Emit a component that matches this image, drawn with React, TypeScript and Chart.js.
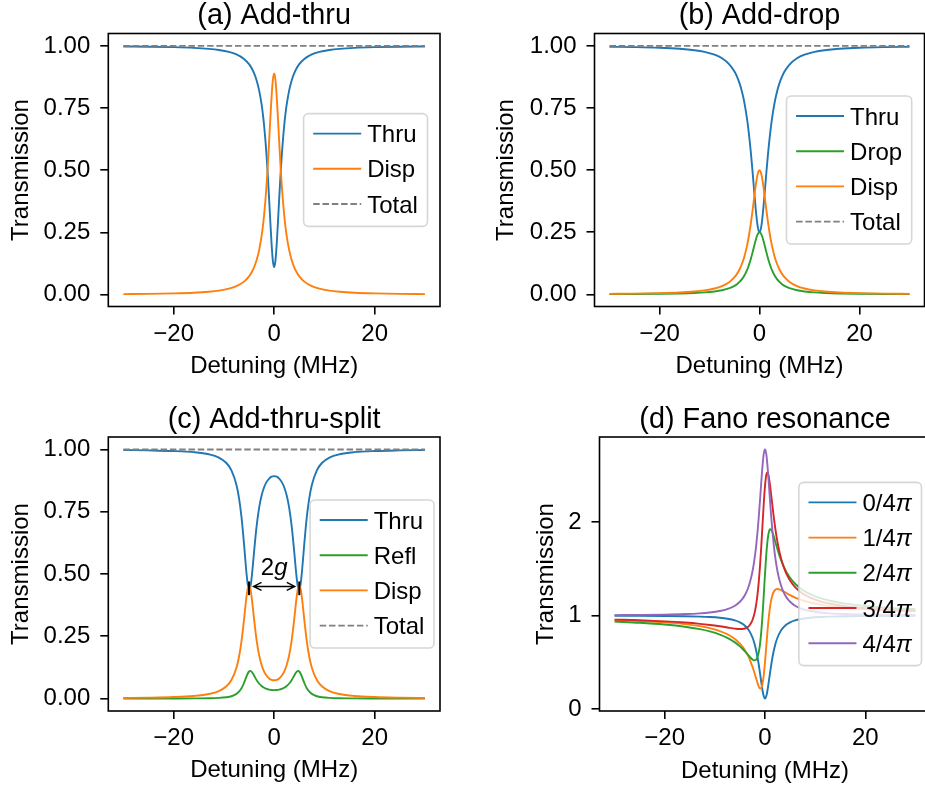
import React, { useEffect, useRef } from "react";
import { Chart, registerables } from "chart.js";

Chart.register(...registerables);

const FONT = '"Liberation Sans", Arial, Helvetica, sans-serif';
const CW = 940;
const CH = 791;

const BLUE = "#1f77b4";
const ORANGE = "#ff7f0e";
const GREEN = "#2ca02c";
const RED = "#d62728";
const PURPLE = "#9467bd";
const GRAY = "#808080";

// ---------------- data ----------------
const XTICKS = [-20, 0, 20];
const XTICK_LABELS = ["\u221220", "0", "20"];
const YTICKS_T = [0, 0.25, 0.5, 0.75, 1];
const YTICK_LABELS_T = ["0.00", "0.25", "0.50", "0.75", "1.00"];
const YTICKS_F = [0, 1, 2];
const YTICK_LABELS_F = ["0", "1", "2"];

// detuning samples (MHz) for panels a, b, d
const X = [-30, -25, -20, -16, -13, -11, -9, -7.5, -6, -5, -4.5, -4, -3.5, -3, -2.5, -2.25, -2, -1.75, -1.5, -1.25, -1, -0.75, -0.5, -0.25, 0, 0.25, 0.5, 0.75, 1, 1.25, 1.5, 1.75, 2, 2.25, 2.5, 3, 3.5, 4, 4.5, 5, 6, 7.5, 9, 11, 13, 16, 20, 25, 30];

const TOTAL_X = [-30, 30];
const TOTAL_Y = [1, 1];

// (a) Add-thru
const THRU_A = [0.9978, 0.9968, 0.9950, 0.9923, 0.9883, 0.9838, 0.9760, 0.9658, 0.9477, 0.9266, 0.9111, 0.8904, 0.8621, 0.8222, 0.7647, 0.7265, 0.6800, 0.6235, 0.5556, 0.4754, 0.3846, 0.2889, 0.2000, 0.1351, 0.1111, 0.1351, 0.2000, 0.2889, 0.3846, 0.4754, 0.5556, 0.6235, 0.6800, 0.7265, 0.7647, 0.8222, 0.8621, 0.8904, 0.9111, 0.9266, 0.9477, 0.9658, 0.9760, 0.9838, 0.9883, 0.9923, 0.9950, 0.9968, 0.9978];
const DISP_A = [0.0022, 0.0032, 0.0050, 0.0077, 0.0117, 0.0162, 0.0240, 0.0342, 0.0523, 0.0734, 0.0889, 0.1096, 0.1379, 0.1778, 0.2353, 0.2735, 0.3200, 0.3765, 0.4444, 0.5246, 0.6154, 0.7111, 0.8000, 0.8649, 0.8889, 0.8649, 0.8000, 0.7111, 0.6154, 0.5246, 0.4444, 0.3765, 0.3200, 0.2735, 0.2353, 0.1778, 0.1379, 0.1096, 0.0889, 0.0734, 0.0523, 0.0342, 0.0240, 0.0162, 0.0117, 0.0077, 0.0050, 0.0032, 0.0022];

// (b) Add-drop
const THRU_B = [0.9967, 0.9952, 0.9926, 0.9885, 0.9827, 0.9760, 0.9647, 0.9502, 0.9250, 0.8966, 0.8763, 0.8500, 0.8154, 0.7692, 0.7073, 0.6690, 0.6250, 0.5752, 0.5200, 0.4607, 0.4000, 0.3425, 0.2941, 0.2615, 0.2500, 0.2615, 0.2941, 0.3425, 0.4000, 0.4607, 0.5200, 0.5752, 0.6250, 0.6690, 0.7073, 0.7692, 0.8154, 0.8500, 0.8763, 0.8966, 0.9250, 0.9502, 0.9647, 0.9760, 0.9827, 0.9885, 0.9926, 0.9952, 0.9967];
const DROP_B = [0.0011, 0.0016, 0.0025, 0.0038, 0.0058, 0.0080, 0.0118, 0.0166, 0.0250, 0.0345, 0.0412, 0.0500, 0.0615, 0.0769, 0.0976, 0.1103, 0.1250, 0.1416, 0.1600, 0.1798, 0.2000, 0.2192, 0.2353, 0.2462, 0.2500, 0.2462, 0.2353, 0.2192, 0.2000, 0.1798, 0.1600, 0.1416, 0.1250, 0.1103, 0.0976, 0.0769, 0.0615, 0.0500, 0.0412, 0.0345, 0.0250, 0.0166, 0.0118, 0.0080, 0.0058, 0.0038, 0.0025, 0.0016, 0.0011];
const DISP_B = [0.0022, 0.0032, 0.0050, 0.0077, 0.0116, 0.0160, 0.0235, 0.0332, 0.0500, 0.0690, 0.0825, 0.1000, 0.1231, 0.1538, 0.1951, 0.2207, 0.2500, 0.2832, 0.3200, 0.3596, 0.4000, 0.4384, 0.4706, 0.4923, 0.5000, 0.4923, 0.4706, 0.4384, 0.4000, 0.3596, 0.3200, 0.2832, 0.2500, 0.2207, 0.1951, 0.1538, 0.1231, 0.1000, 0.0825, 0.0690, 0.0500, 0.0332, 0.0235, 0.0160, 0.0116, 0.0077, 0.0050, 0.0032, 0.0022];

// (c) Add-thru-split
const XC = [-30, -25, -20, -16, -13, -11, -9.5, -8.5, -7.5, -7, -6.5, -6, -5.75, -5.5, -5.25, -5, -4.75, -4.5, -4.25, -4, -3.5, -3, -2.5, -2, -1.5, -1, -0.5, 0, 0.5, 1, 1.5, 2, 2.5, 3, 3.5, 4, 4.25, 4.5, 4.75, 5, 5.25, 5.5, 5.75, 6, 6.5, 7, 7.5, 8.5, 9.5, 11, 13, 16, 20, 25, 30];
const THRU_C = [0.9976, 0.9963, 0.9938, 0.9892, 0.9807, 0.9675, 0.9456, 0.9163, 0.8575, 0.8058, 0.7290, 0.6218, 0.5605, 0.5022, 0.4575, 0.4371, 0.4462, 0.4811, 0.5318, 0.5879, 0.6898, 0.7645, 0.8150, 0.8482, 0.8698, 0.8832, 0.8906, 0.8929, 0.8906, 0.8832, 0.8698, 0.8482, 0.8150, 0.7645, 0.6898, 0.5879, 0.5318, 0.4811, 0.4462, 0.4371, 0.4575, 0.5022, 0.5605, 0.6218, 0.7290, 0.8058, 0.8575, 0.9163, 0.9456, 0.9675, 0.9807, 0.9892, 0.9938, 0.9963, 0.9976];
const REFL_C = [0.0000, 0.0001, 0.0002, 0.0005, 0.0012, 0.0025, 0.0052, 0.0093, 0.0186, 0.0274, 0.0413, 0.0624, 0.0755, 0.0889, 0.1007, 0.1087, 0.1111, 0.1081, 0.1012, 0.0924, 0.0746, 0.0604, 0.0503, 0.0434, 0.0387, 0.0358, 0.0342, 0.0337, 0.0342, 0.0358, 0.0387, 0.0434, 0.0503, 0.0604, 0.0746, 0.0924, 0.1012, 0.1081, 0.1111, 0.1087, 0.1007, 0.0889, 0.0755, 0.0624, 0.0413, 0.0274, 0.0186, 0.0093, 0.0052, 0.0025, 0.0012, 0.0005, 0.0002, 0.0001, 0.0000];
const DISP_C = [0.0024, 0.0036, 0.0060, 0.0104, 0.0182, 0.0300, 0.0492, 0.0744, 0.1240, 0.1668, 0.2297, 0.3158, 0.3640, 0.4089, 0.4418, 0.4542, 0.4427, 0.4108, 0.3669, 0.3197, 0.2356, 0.1751, 0.1347, 0.1084, 0.0914, 0.0809, 0.0752, 0.0734, 0.0752, 0.0809, 0.0914, 0.1084, 0.1347, 0.1751, 0.2356, 0.3197, 0.3669, 0.4108, 0.4427, 0.4542, 0.4418, 0.4089, 0.3640, 0.3158, 0.2297, 0.1668, 0.1240, 0.0744, 0.0492, 0.0300, 0.0182, 0.0104, 0.0060, 0.0036, 0.0024];

// split annotation (data coordinates)
const SPLIT_MARK_X = [-5, 5];
const SPLIT_MARK_Y = [0.415, 0.47];
const SPLIT_ARROW_X = [-4.1, 4.1];
const SPLIT_ARROW_Y = 0.45;
const SPLIT_LABEL_Y = 0.497;

// (d) Fano resonance
const FANO_0 = [0.9978, 0.9968, 0.9950, 0.9923, 0.9883, 0.9838, 0.9760, 0.9658, 0.9477, 0.9266, 0.9111, 0.8904, 0.8621, 0.8222, 0.7647, 0.7265, 0.6800, 0.6235, 0.5556, 0.4754, 0.3846, 0.2889, 0.2000, 0.1351, 0.1111, 0.1351, 0.2000, 0.2889, 0.3846, 0.4754, 0.5556, 0.6235, 0.6800, 0.7265, 0.7647, 0.8222, 0.8621, 0.8904, 0.9111, 0.9266, 0.9477, 0.9658, 0.9760, 0.9838, 0.9883, 0.9923, 0.9950, 0.9968, 0.9978];
const FANO_1 = [0.9517, 0.9419, 0.9269, 0.9080, 0.8861, 0.8647, 0.8336, 0.7995, 0.7489, 0.6994, 0.6673, 0.6286, 0.5813, 0.5232, 0.4521, 0.4115, 0.3680, 0.3231, 0.2794, 0.2422, 0.2198, 0.2242, 0.2686, 0.3622, 0.5016, 0.6680, 0.8343, 0.9784, 1.0901, 1.1696, 1.2222, 1.2548, 1.2731, 1.2818, 1.2840, 1.2775, 1.2640, 1.2485, 1.2330, 1.2183, 1.1925, 1.1621, 1.1394, 1.1171, 1.1008, 1.0833, 1.0675, 1.0546, 1.0458];
const FANO_2 = [0.9346, 0.9219, 0.9031, 0.8800, 0.8540, 0.8296, 0.7958, 0.7607, 0.7124, 0.6697, 0.6444, 0.6164, 0.5862, 0.5556, 0.5294, 0.5214, 0.5200, 0.5294, 0.5556, 0.6066, 0.6923, 0.8222, 1.0000, 1.2162, 1.4444, 1.6486, 1.8000, 1.8889, 1.9231, 1.9180, 1.8889, 1.8471, 1.8000, 1.7521, 1.7059, 1.6222, 1.5517, 1.4932, 1.4444, 1.4037, 1.3399, 1.2735, 1.2282, 1.1866, 1.1577, 1.1278, 1.1019, 1.0813, 1.0676];
const FANO_3 = [0.9564, 0.9486, 0.9374, 0.9245, 0.9109, 0.8991, 0.8846, 0.8721, 0.8598, 0.8551, 0.8559, 0.8611, 0.8739, 0.9003, 0.9513, 0.9917, 1.0469, 1.1217, 1.2222, 1.3550, 1.5253, 1.7327, 1.9657, 2.1969, 2.3873, 2.5027, 2.5314, 2.4869, 2.3955, 2.2824, 2.1650, 2.0534, 1.9520, 1.8620, 1.7832, 1.6546, 1.5566, 1.4810, 1.4216, 1.3740, 1.3034, 1.2347, 1.1904, 1.1515, 1.1256, 1.0997, 1.0781, 1.0613, 1.0505];
const FANO_4 = [1.0044, 1.0064, 1.0099, 1.0155, 1.0234, 1.0325, 1.0480, 1.0684, 1.1046, 1.1468, 1.1778, 1.2192, 1.2759, 1.3556, 1.4706, 1.5470, 1.6400, 1.7529, 1.8889, 2.0492, 2.2308, 2.4222, 2.6000, 2.7297, 2.7778, 2.7297, 2.6000, 2.4222, 2.2308, 2.0492, 1.8889, 1.7529, 1.6400, 1.5470, 1.4706, 1.3556, 1.2759, 1.2192, 1.1778, 1.1468, 1.1046, 1.0684, 1.0480, 1.0325, 1.0234, 1.0155, 1.0099, 1.0064, 1.0044];

// ---------------- panels ----------------
type Series = { label: string; x: number[]; y: number[]; color: string; dash?: number[] };
type Panel = {
  title: string;
  series: Series[];
  l: number; r: number; t: number; b: number;
  wy: number; hx: number;
  ymin: number; ymax: number;
  yticks: number[]; ylabels: string[];
  legendGap: number;
  split?: boolean;
};

const DASH = [6.5, 2.8];

const PANELS: Panel[] = [
  {
    title: "(a) Add-thru",
    series: [
      { label: "Thru", x: X, y: THRU_A, color: BLUE },
      { label: "Disp", x: X, y: DISP_A, color: ORANGE },
      { label: "Total", x: TOTAL_X, y: TOTAL_Y, color: GRAY, dash: DASH },
    ],
    l: 108.3, r: 440, t: 33.5, b: 306.5, wy: 101.7, hx: 74,
    ymin: -0.0477, ymax: 1.0499, yticks: YTICKS_T, ylabels: YTICK_LABELS_T,
    legendGap: 12.5,
  },
  {
    title: "(b) Add-drop",
    series: [
      { label: "Thru", x: X, y: THRU_B, color: BLUE },
      { label: "Drop", x: X, y: DROP_B, color: GREEN },
      { label: "Disp", x: X, y: DISP_B, color: ORANGE },
      { label: "Total", x: TOTAL_X, y: TOTAL_Y, color: GRAY, dash: DASH },
    ],
    l: 594.5, r: 924.5, t: 33.5, b: 306.5, wy: 102.9, hx: 74,
    ymin: -0.0488, ymax: 1.0499, yticks: YTICKS_T, ylabels: YTICK_LABELS_T,
    legendGap: 12.8,
  },
  {
    title: "(c) Add-thru-split",
    series: [
      { label: "Thru", x: XC, y: THRU_C, color: BLUE },
      { label: "Refl", x: XC, y: REFL_C, color: GREEN },
      { label: "Disp", x: XC, y: DISP_C, color: ORANGE },
      { label: "Total", x: TOTAL_X, y: TOTAL_Y, color: GRAY, dash: DASH },
    ],
    l: 108.3, r: 440, t: 437, b: 711, wy: 101.7, hx: 73.5,
    ymin: -0.05, ymax: 1.05, yticks: YTICKS_T, ylabels: YTICK_LABELS_T,
    legendGap: 6,
    split: true,
  },
  {
    title: "(d) Fano resonance",
    series: [
      { label: "0/4π", x: X, y: FANO_0, color: BLUE },
      { label: "1/4π", x: X, y: FANO_1, color: ORANGE },
      { label: "2/4π", x: X, y: FANO_2, color: GREEN },
      { label: "3/4π", x: X, y: FANO_3, color: RED },
      { label: "4/4π", x: X, y: FANO_4, color: PURPLE },
    ],
    l: 599.5, r: 930.5, t: 437, b: 711, wy: 67.9, hx: 75,
    ymin: -0.0222, ymax: 2.9111, yticks: YTICKS_F, ylabels: YTICK_LABELS_F,
    legendGap: 9,
  },
];

// ---------------- drawing helpers ----------------
type Seg = [string, boolean];

function labelSegs(label: string): Seg[] {
  const segs: Seg[] = [];
  for (const ch of Array.from(label)) {
    const it = ch === "π";
    if (segs.length && segs[segs.length - 1][1] === it) segs[segs.length - 1][0] += ch;
    else segs.push([ch, it]);
  }
  return segs;
}

function fontFor(size: number, italic: boolean) {
  return `${italic ? "italic " : ""}${size}px ${FONT}`;
}

function measureRich(ctx: CanvasRenderingContext2D, segs: Seg[], size: number) {
  let w = 0;
  for (const [t, it] of segs) {
    ctx.font = fontFor(size, it);
    w += ctx.measureText(t).width;
  }
  return w;
}

function drawRich(ctx: CanvasRenderingContext2D, segs: Seg[], size: number, x: number, y: number, align: "left" | "center") {
  const total = measureRich(ctx, segs, size);
  let cx = align === "center" ? x - total / 2 : x;
  ctx.textAlign = "left";
  ctx.textBaseline = "alphabetic";
  ctx.fillStyle = "#000";
  for (const [t, it] of segs) {
    ctx.font = fontFor(size, it);
    ctx.fillText(t, cx, y);
    cx += ctx.measureText(t).width;
  }
}

function roundRectPath(ctx: CanvasRenderingContext2D, x: number, y: number, w: number, h: number, r: number) {
  ctx.beginPath();
  ctx.moveTo(x + r, y);
  ctx.lineTo(x + w - r, y);
  ctx.arcTo(x + w, y, x + w, y + r, r);
  ctx.lineTo(x + w, y + h - r);
  ctx.arcTo(x + w, y + h, x + w - r, y + h, r);
  ctx.lineTo(x + r, y + h);
  ctx.arcTo(x, y + h, x, y + h - r, r);
  ctx.lineTo(x, y + r);
  ctx.arcTo(x, y, x + r, y, r);
  ctx.closePath();
}

function drawLegend(chart: any, p: Panel) {
  const ctx: CanvasRenderingContext2D = chart.ctx;
  const ca = chart.chartArea;
  const size = 24, pad = 9.6, handle = 48, gap = 6, rowH = 23.2, spacing = 12;
  const n = p.series.length;
  const tw = Math.max(...p.series.map((s) => measureRich(ctx, labelSegs(s.label), size)));
  const w = 2 * pad + handle + gap + tw;
  const h = 2 * pad + n * rowH + (n - 1) * spacing;
  const x0 = ca.right - p.legendGap - w;
  const y0 = (ca.top + ca.bottom) / 2 - h / 2;
  roundRectPath(ctx, x0, y0, w, h, 4.8);
  ctx.fillStyle = "rgba(255,255,255,0.8)";
  ctx.fill();
  ctx.strokeStyle = "rgba(204,204,204,0.8)";
  ctx.lineWidth = 1.6;
  ctx.stroke();
  p.series.forEach((s, i) => {
    const ly = y0 + 20 + i * (rowH + spacing);
    ctx.beginPath();
    ctx.setLineDash(s.dash || []);
    ctx.strokeStyle = s.color;
    ctx.lineWidth = 1.9;
    ctx.moveTo(x0 + pad, ly);
    ctx.lineTo(x0 + pad + handle, ly);
    ctx.stroke();
    ctx.setLineDash([]);
    drawRich(ctx, labelSegs(s.label), size, x0 + pad + handle + gap, ly + 8.6, "left");
  });
}

function drawSplit(chart: any) {
  const ctx: CanvasRenderingContext2D = chart.ctx;
  const xs = chart.scales.x, ys = chart.scales.y;
  ctx.strokeStyle = "#000";
  ctx.lineWidth = 2;
  for (const m of SPLIT_MARK_X) {
    const px = xs.getPixelForValue(m);
    ctx.beginPath();
    ctx.moveTo(px, ys.getPixelForValue(SPLIT_MARK_Y[0]));
    ctx.lineTo(px, ys.getPixelForValue(SPLIT_MARK_Y[1]));
    ctx.stroke();
  }
  const ay = ys.getPixelForValue(SPLIT_ARROW_Y);
  const a1 = xs.getPixelForValue(SPLIT_ARROW_X[0]);
  const a2 = xs.getPixelForValue(SPLIT_ARROW_X[1]);
  ctx.lineWidth = 1.4;
  ctx.beginPath();
  ctx.moveTo(a1, ay);
  ctx.lineTo(a2, ay);
  ctx.moveTo(a1 + 8, ay - 4);
  ctx.lineTo(a1, ay);
  ctx.lineTo(a1 + 8, ay + 4);
  ctx.moveTo(a2 - 8, ay - 4);
  ctx.lineTo(a2, ay);
  ctx.lineTo(a2 - 8, ay + 4);
  ctx.stroke();
  drawRich(ctx, [["2", false], ["g", true]], 24, xs.getPixelForValue(0), ys.getPixelForValue(SPLIT_LABEL_Y), "center");
}

function decorPlugin(p: Panel) {
  return {
    id: "decor",
    afterDraw(chart: any) {
      const ctx: CanvasRenderingContext2D = chart.ctx;
      const ca = chart.chartArea;
      ctx.save();
      ctx.strokeStyle = "#000";
      ctx.lineWidth = 1.6;
      ctx.setLineDash([]);
      ctx.strokeRect(ca.left, ca.top, ca.right - ca.left, ca.bottom - ca.top);
      ctx.fillStyle = "#000";
      ctx.font = fontFor(28.8, false);
      ctx.textAlign = "center";
      ctx.textBaseline = "alphabetic";
      ctx.fillText(p.title, (ca.left + ca.right) / 2, ca.top - 9.5);
      if (p.split) drawSplit(chart);
      drawLegend(chart, p);
      ctx.restore();
    },
  };
}

function makeConfig(p: Panel): any {
  const tickFont = { family: FONT, size: 24 };
  const grid = { display: true, drawOnChartArea: false, drawTicks: true, tickLength: 8, color: "#000", lineWidth: 1.6 };
  return {
    type: "line",
    data: {
      datasets: p.series.map((s, i) => ({
        label: s.label,
        data: s.x.map((x, j) => ({ x, y: s.y[j] })),
        borderColor: s.color,
        backgroundColor: s.color,
        borderWidth: 1.9,
        borderDash: s.dash || [],
        pointRadius: 0,
        pointHoverRadius: 0,
        fill: false,
        cubicInterpolationMode: "monotone",
        order: -i,
      })),
    },
    options: {
      responsive: false,
      animation: false,
      events: [],
      layout: {
        padding: { left: p.l - p.wy, right: CW - p.r, top: p.t, bottom: CH - p.b - p.hx },
      },
      plugins: { legend: { display: false }, title: { display: false }, tooltip: { enabled: false } },
      scales: {
        x: {
          type: "linear",
          min: -33,
          max: 33,
          afterBuildTicks: (s: any) => { s.ticks = XTICKS.map((v) => ({ value: v })); },
          afterFit: (s: any) => { s.height = p.hx; },
          ticks: { callback: (_v: any, i: number) => XTICK_LABELS[i], font: tickFont, color: "#000", padding: 5, autoSkip: false, maxRotation: 0, minRotation: 0 },
          grid,
          border: { display: false },
          title: { display: true, text: "Detuning (MHz)", font: { family: FONT, size: 24, lineHeight: 1.2 }, color: "#000", padding: 0 },
        },
        y: {
          type: "linear",
          min: p.ymin,
          max: p.ymax,
          afterBuildTicks: (s: any) => { s.ticks = p.yticks.map((v) => ({ value: v })); },
          afterFit: (s: any) => { s.width = p.wy; },
          ticks: { callback: (_v: any, i: number) => p.ylabels[i], font: tickFont, color: "#000", padding: 10, autoSkip: false },
          grid,
          border: { display: false },
          title: { display: true, text: "Transmission", font: { family: FONT, size: 24, lineHeight: 1.2 }, color: "#000", padding: 0 },
        },
      },
    },
    plugins: [decorPlugin(p)],
  };
}

function PanelChart({ panel }: { panel: Panel }) {
  const ref = useRef<HTMLCanvasElement>(null);
  useEffect(() => {
    const chart = new Chart(ref.current as HTMLCanvasElement, makeConfig(panel));
    return () => chart.destroy();
  }, [panel]);
  return <canvas ref={ref} width={CW} height={CH} style={{ position: "absolute", left: 0, top: 0 }} />;
}

export default function App() {
  return (
    <div style={{ position: "absolute", left: 0, top: 0, width: 925, height: 791, overflow: "hidden", background: "#fff" }}>
      {PANELS.map((p, i) => (
        <PanelChart key={i} panel={p} />
      ))}
    </div>
  );
}
